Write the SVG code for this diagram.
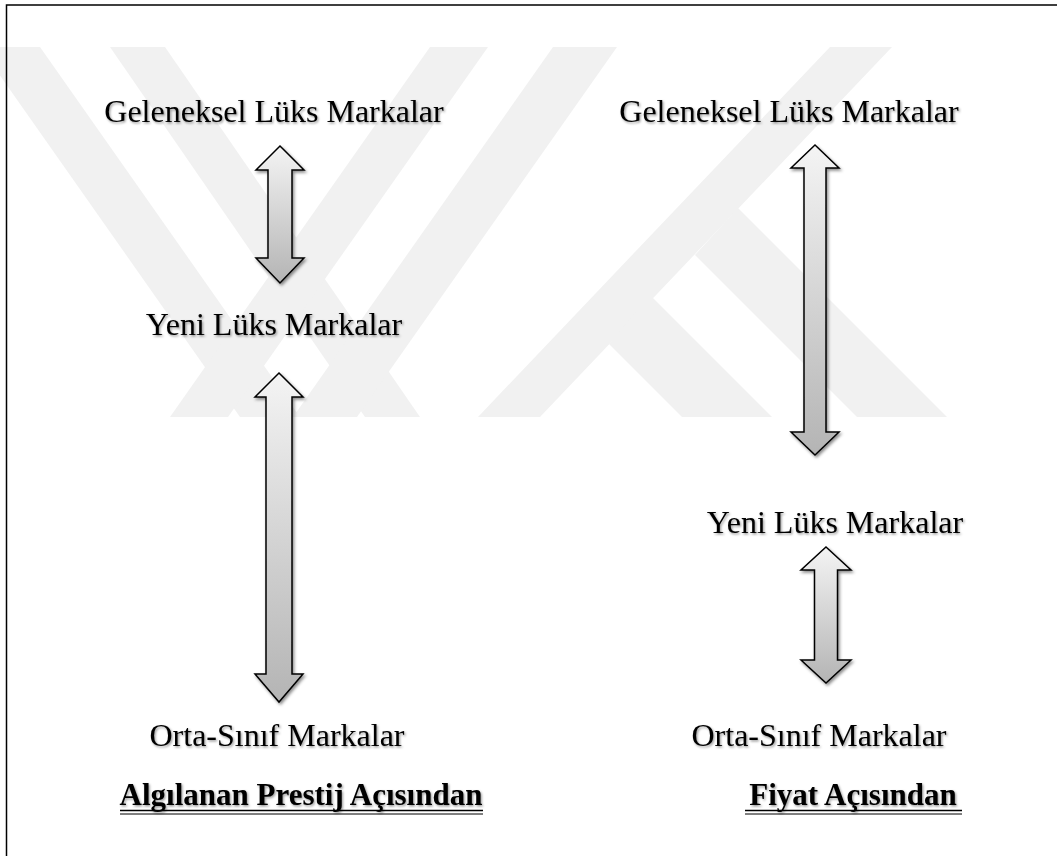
<svg xmlns="http://www.w3.org/2000/svg" width="1057" height="856" viewBox="0 0 1057 856">
  <defs>
    <linearGradient id="arrowFill" x1="0" y1="0" x2="0" y2="1">
      <stop offset="0" stop-color="#f4f4f4"/>
      <stop offset="1" stop-color="#b4b4b4"/>
    </linearGradient>
    <filter id="arrowShadow" x="-50%" y="-10%" width="200%" height="120%">
      <feDropShadow dx="1.5" dy="2" stdDeviation="1.5" flood-color="#000" flood-opacity="0.45"/>
    </filter>
    <filter id="textShadow" x="-5%" y="-30%" width="110%" height="160%">
      <feDropShadow dx="1.2" dy="1.5" stdDeviation="0.9" flood-color="#000" flood-opacity="0.4"/>
    </filter>
  </defs>
  <style>
    .wm { fill: #f1f1f1; stroke: none; }
    .arrow { fill: url(#arrowFill); stroke: #000; stroke-width: 1.5; stroke-linejoin: miter; filter: url(#arrowShadow); }
    .lbl { font-family: "Liberation Serif", "Times New Roman", serif; font-size: 32px; fill: #000; text-anchor: middle; filter: url(#textShadow); }
    .ttl { font-family: "Liberation Serif", "Times New Roman", serif; font-size: 31px; font-weight: bold; fill: #000; text-anchor: middle; filter: url(#textShadow); }
    .ul { stroke: #000; fill: none; }
  </style>
  <rect x="0" y="0" width="1057" height="856" fill="#fff"/>
  <g id="watermark">
    <polygon class="wm" points="-20,47 40,47 300,417 240,417"/>
    <polygon class="wm" points="110,47 165,47 420,417 365,417"/>
    <polygon class="wm" points="430,47 488,47 228,417 170,417"/>
    <polygon class="wm" points="553,47 617,47 357,417 293,417"/>
    <polygon class="wm" points="830,47 892,47 540,417 478,417"/>
    <polygon class="wm" points="738,208 947,417 857,417 695,255"/>
    <polygon class="wm" points="650,295 772,417 682,417 609,344"/>
  </g>
  <path id="frame" d="M6.5,856 L6.5,5 L1057,5" fill="none" stroke="#000" stroke-width="1.5"/>
  <g id="connectors">
    <path class="arrow" d="M280,146 L304,170 L292,170 L292,258 L304,258 L280,283 L256,258 L268,258 L268,170 L256,170 Z"/>
    <path class="arrow" d="M279,373 L303,397 L292,397 L292,674 L303,674 L279,702 L255,674 L266,674 L266,397 L255,397 Z"/>
    <path class="arrow" d="M815,145 L839,168 L826,168 L826,432 L839,432 L815,455 L791,432 L804,432 L804,168 L791,168 Z"/>
    <path class="arrow" d="M826,547 L851,570 L837.5,570 L837.5,660 L851,660 L826,683 L801,660 L814.5,660 L814.5,570 L801,570 Z"/>
  </g>
  <g id="node-left-traditional"><text class="lbl" x="274" y="122">Geleneksel Lüks Markalar</text></g>
  <g id="node-left-new"><text class="lbl" x="274" y="335">Yeni Lüks Markalar</text></g>
  <g id="node-left-middle"><text class="lbl" x="277" y="746">Orta-Sınıf Markalar</text></g>
  <g id="node-right-traditional"><text class="lbl" x="789" y="122">Geleneksel Lüks Markalar</text></g>
  <g id="node-right-new"><text class="lbl" x="835" y="533">Yeni Lüks Markalar</text></g>
  <g id="node-right-middle"><text class="lbl" x="819" y="746">Orta-Sınıf Markalar</text></g>
  <g id="title-left">
    <text class="ttl" x="301" y="805">Algılanan Prestij Açısından</text>
    <line class="ul" x1="120" y1="810.5" x2="483" y2="810.5" stroke-width="1.6"/>
    <line class="ul" x1="120" y1="814" x2="483" y2="814" stroke-width="1"/>
  </g>
  <g id="title-right">
    <text class="ttl" x="853" y="805">Fiyat Açısından</text>
    <line class="ul" x1="745" y1="810.5" x2="962" y2="810.5" stroke-width="1.6"/>
    <line class="ul" x1="745" y1="814" x2="962" y2="814" stroke-width="1"/>
  </g>
</svg>
